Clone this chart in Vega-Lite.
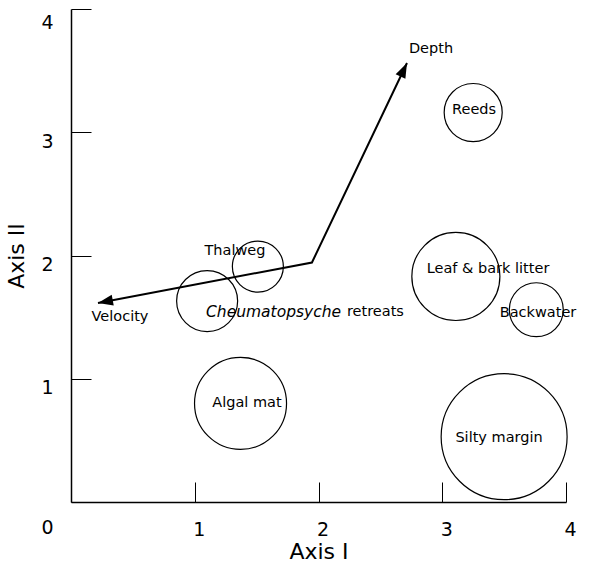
{
  "$schema": "https://vega.github.io/schema/vega-lite/v6.json",
  "width": 495,
  "height": 493,
  "autosize": "none",
  "padding": {"left": 71, "top": 9, "right": 24, "bottom": 69},
  "background": "white",
  "config": {"view": {"stroke": null}, "font": "DejaVu Sans"},
  "datasets": {
    "habitats": [
      {"habitat": "Reeds", "x": 3.25, "y": 3.16, "d": 0.47},
      {"habitat": "Thalweg", "x": 1.51, "y": 1.91, "d": 0.413},
      {"habitat": "Cheumatopsyche retreats", "x": 1.10, "y": 1.63, "d": 0.494},
      {"habitat": "Leaf & bark litter", "x": 3.11, "y": 1.83, "d": 0.713},
      {"habitat": "Backwater", "x": 3.76, "y": 1.56, "d": 0.437},
      {"habitat": "Algal mat", "x": 1.37, "y": 0.80, "d": 0.745},
      {"habitat": "Silty margin", "x": 3.50, "y": 0.53, "d": 1.02}
    ],
    "labels": [
      {"text": "Reeds", "x": 3.257, "y": 3.18},
      {"text": "Thalweg", "x": 1.325, "y": 2.036},
      {"text": "Leaf & bark litter", "x": 3.37, "y": 1.89},
      {"text": "Backwater", "x": 3.774, "y": 1.533},
      {"text": "Algal mat", "x": 1.422, "y": 0.803},
      {"text": "Silty margin", "x": 3.459, "y": 0.519},
      {"text": "Depth", "x": 2.909, "y": 3.675},
      {"text": "Velocity", "x": 0.396, "y": 1.50}
    ],
    "italic": [{"text": "Cheumatopsyche", "x": 1.091, "y": 1.54}],
    "plainLeft": [{"text": "retreats", "x": 2.23, "y": 1.54}],
    "vectors": [
      {"order": 1, "x": 0.218, "y": 1.615},
      {"order": 2, "x": 1.947, "y": 1.943},
      {"order": 3, "x": 2.715, "y": 3.562}
    ],
    "heads": [
      {"vector": "Velocity", "x": 0.218, "y": 1.615, "angle": 259.3},
      {"vector": "Depth", "x": 2.715, "y": 3.562, "angle": 25.5}
    ]
  },
  "encoding": {
    "x": {
      "field": "x", "type": "quantitative",
      "scale": {"domain": [0, 4], "nice": false, "zero": false},
      "axis": {
        "title": "Axis I", "values": [1, 2, 3, 4], "grid": false,
        "tickSize": -20, "tickColor": "black", "tickWidth": 1,
        "domainColor": "black", "domainWidth": 1.5,
        "labelPadding": 38, "labelOffset": 4, "labelFlush": false,
        "labelFontSize": 19, "labelColor": "black",
        "titleFontSize": 22, "titleFontWeight": "normal", "titleColor": "black", "titlePadding": 2
      }
    },
    "y": {
      "field": "y", "type": "quantitative",
      "scale": {"domain": [0, 4], "nice": false, "zero": false},
      "axis": {
        "title": "Axis II", "values": [0, 1, 2, 3, 4], "grid": false,
        "tickSize": -20, "tickColor": "black", "tickWidth": 1,
        "domainColor": "black", "domainWidth": 1.5,
        "labelPadding": 38, "labelFlush": false,
        "labelOffset": {"condition": [{"test": "datum.value == 0", "value": 25}, {"test": "datum.value == 4", "value": 13}], "value": 9},
        "labelFontSize": 19, "labelColor": "black",
        "titleFontSize": 22, "titleFontWeight": "normal", "titleColor": "black", "titlePadding": 12
      }
    }
  },
  "layer": [
    {
      "data": {"name": "habitats"},
      "mark": {"type": "point", "shape": "circle", "filled": false, "stroke": "black", "strokeWidth": 1.2, "opacity": 1},
      "encoding": {
        "size": {"field": "d", "type": "quantitative", "scale": {"type": "pow", "exponent": 2, "domain": [0, 1], "range": [0, 15252]}, "legend": null}
      }
    },
    {
      "data": {"name": "vectors"},
      "mark": {"type": "line", "color": "black", "strokeWidth": 2},
      "encoding": {
        "order": {"field": "order"}
      }
    },
    {
      "data": {"name": "heads"},
      "mark": {"type": "point", "shape": "M0,0L-0.36,1L0.36,1Z", "filled": true, "color": "black", "opacity": 1, "size": 900},
      "encoding": {
        "angle": {"field": "angle", "type": "quantitative", "scale": null}
      }
    },
    {
      "data": {"name": "labels"},
      "mark": {"type": "text", "fontSize": 14.5, "color": "black", "align": "center", "baseline": "middle"},
      "encoding": {
        "text": {"field": "text"}
      }
    },
    {
      "data": {"name": "italic"},
      "mark": {"type": "text", "fontSize": 15.5, "fontStyle": "italic", "color": "black", "align": "left", "baseline": "middle"},
      "encoding": {
        "text": {"field": "text"}
      }
    },
    {
      "data": {"name": "plainLeft"},
      "mark": {"type": "text", "fontSize": 14.5, "color": "black", "align": "left", "baseline": "middle"},
      "encoding": {
        "text": {"field": "text"}
      }
    }
  ]
}
